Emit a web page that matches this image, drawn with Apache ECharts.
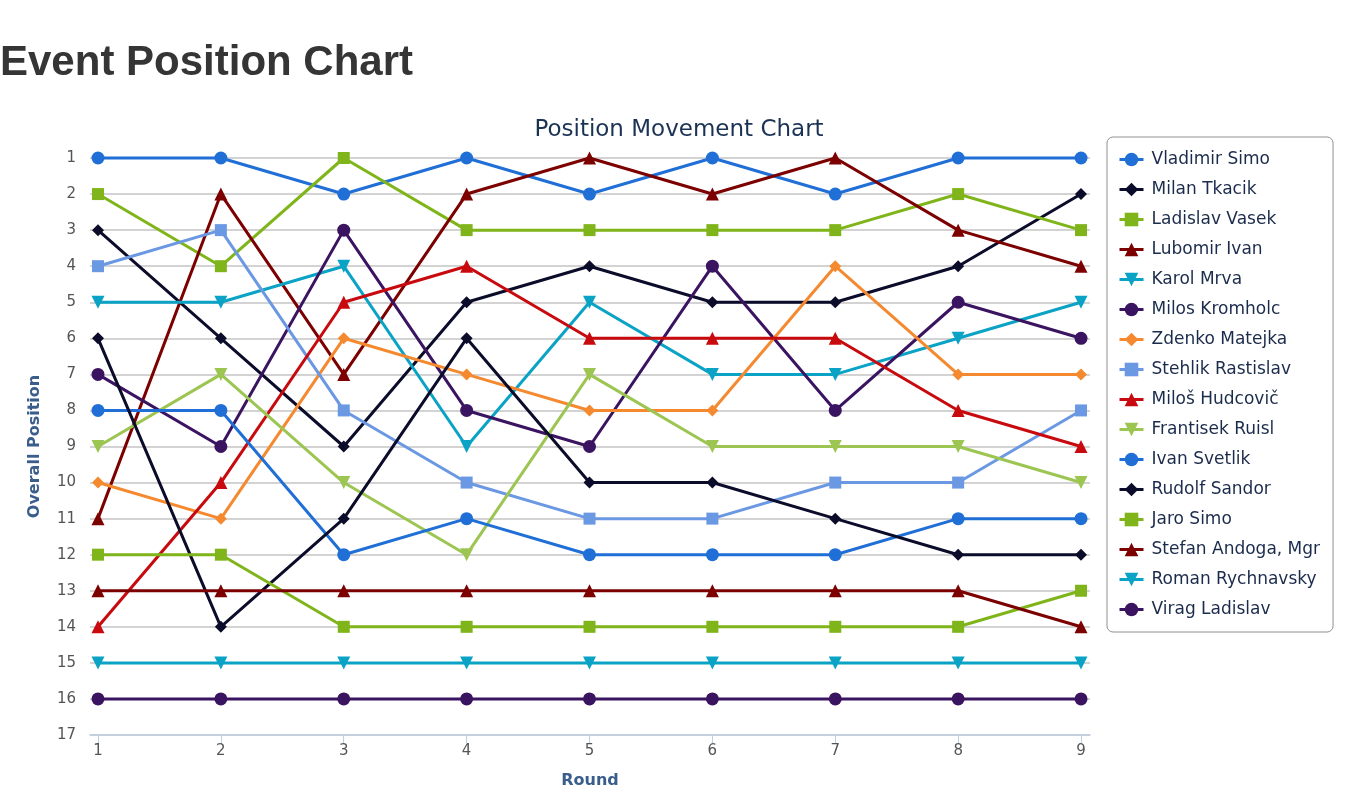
<!DOCTYPE html>
<html>
<head>
<meta charset="utf-8">
<script src="https://cdn.jsdelivr.net/npm/echarts@6/dist/echarts.min.js"></script>
<style>
html,body{margin:0;padding:0;background:#fff;}
#chart{width:1358px;height:797px;}
</style>
</head>
<body>
<div id="chart"></div>
<script>
var rounds = [1, 2, 3, 4, 5, 6, 7, 8, 9];
var positionTicks = [1,2,3,4,5,6,7,8,9,10,11,12,13,14,15,16,17];

var vladimirSimo     = [1, 1, 2, 1, 2, 1, 2, 1, 1];
var milanTkacik      = [3, 6, 9, 5, 4, 5, 5, 4, 2];
var ladislavVasek    = [2, 4, 1, 3, 3, 3, 3, 2, 3];
var lubomirIvan      = [11, 2, 7, 2, 1, 2, 1, 3, 4];
var karolMrva        = [5, 5, 4, 9, 5, 7, 7, 6, 5];
var milosKromholc    = [7, 9, 3, 8, 9, 4, 8, 5, 6];
var zdenkoMatejka    = [10, 11, 6, 7, 8, 8, 4, 7, 7];
var stehlikRastislav = [4, 3, 8, 10, 11, 11, 10, 10, 8];
var milosHudcovic    = [14, 10, 5, 4, 6, 6, 6, 8, 9];
var frantisekRuisl   = [9, 7, 10, 12, 7, 9, 9, 9, 10];
var ivanSvetlik      = [8, 8, 12, 11, 12, 12, 12, 11, 11];
var rudolfSandor     = [6, 14, 11, 6, 10, 10, 11, 12, 12];
var jaroSimo         = [12, 12, 14, 14, 14, 14, 14, 14, 13];
var stefanAndoga     = [13, 13, 13, 13, 13, 13, 13, 13, 14];
var romanRychnavsky  = [15, 15, 15, 15, 15, 15, 15, 15, 15];
var viragLadislav    = [16, 16, 16, 16, 16, 16, 16, 16, 16];

var players = [
  ['Vladimir Simo', vladimirSimo, '#1f6fd6', 'circle', 0, 13],
  ['Milan Tkacik', milanTkacik, '#0b0b2a', 'diamond', 0, 12],
  ['Ladislav Vasek', ladislavVasek, '#7fb51a', 'rect', 0, 12],
  ['Lubomir Ivan', lubomirIvan, '#7c0000', 'triangle', 0, 13],
  ['Karol Mrva', karolMrva, '#0aa3c6', 'triangle', 180, 13],
  ['Milos Kromholc', milosKromholc, '#3b1461', 'circle', 0, 13],
  ['Zdenko Matejka', zdenkoMatejka, '#f5892f', 'diamond', 0, 12],
  ['Stehlik Rastislav', stehlikRastislav, '#6b98e2', 'rect', 0, 12],
  ['Miloš Hudcovič', milosHudcovic, '#c80a0e', 'triangle', 0, 13],
  ['Frantisek Ruisl', frantisekRuisl, '#9cc552', 'triangle', 180, 13],
  ['Ivan Svetlik', ivanSvetlik, '#1f6fd6', 'circle', 0, 13],
  ['Rudolf Sandor', rudolfSandor, '#0b0b2a', 'diamond', 0, 12],
  ['Jaro Simo', jaroSimo, '#7fb51a', 'rect', 0, 12],
  ['Stefan Andoga, Mgr', stefanAndoga, '#7c0000', 'triangle', 0, 13],
  ['Roman Rychnavsky', romanRychnavsky, '#0aa3c6', 'triangle', 180, 13],
  ['Virag Ladislav', viragLadislav, '#3b1461', 'circle', 0, 13]
];

var FONT = '"DejaVu Sans", "Noto Sans", sans-serif';

var series = players.map(function (p) {
  return {
    name: p[0],
    type: 'line',
    data: rounds.map(function (r, i) { return [r, p[1][i]]; }),
    symbol: p[3],
    symbolRotate: p[4],
    symbolSize: p[5],
    showAllSymbol: true,
    clip: false,
    lineStyle: { color: p[2], width: 3 },
    itemStyle: { color: p[2], opacity: 1 },
    emphasis: { disabled: true },
    animation: false
  };
});

var chart = echarts.init(document.getElementById('chart'), null, { renderer: 'canvas' });
chart.setOption({
  animation: false,
  backgroundColor: '#ffffff',
  title: [
    {
      text: 'Event Position Chart',
      left: -5, top: 37,
      textStyle: { fontFamily: '"Liberation Sans", Arial, sans-serif', fontSize: 42, fontWeight: 'bold', color: '#353535' }
    },
    {
      text: 'Position Movement Chart',
      left: 674, top: 114, textAlign: 'center',
      textStyle: { fontFamily: FONT, fontSize: 23, fontWeight: 'normal', color: '#1a3354' }
    }
  ],
  legend: {
    orient: 'vertical',
    left: 1107, top: 137,
    padding: [14, 13, 14, 11],
    itemWidth: 24, itemHeight: 17, itemGap: 13,
    lineStyle: { width: 3 },
    borderColor: '#909090', borderWidth: 1, borderRadius: 6,
    backgroundColor: '#ffffff',
    textStyle: { fontFamily: FONT, fontSize: 17, color: '#1b2b4b', padding: [0, 0, 0, 3] },
    data: players.map(function (p) { return p[0]; })
  },
  grid: { left: 90, right: 268, top: 158, bottom: 62, containLabel: false },
  xAxis: {
    type: 'value',
    min: 0.935, max: 9.073,
    name: 'Round', nameLocation: 'middle', nameGap: 38,
    nameTextStyle: { fontFamily: FONT, fontSize: 16, fontWeight: 'bold', color: '#3a5e8c' },
    axisLine: { show: true, onZero: false, lineStyle: { color: '#c0cfe0', width: 1.5 } },
    axisTick: { show: true, length: 8, lineStyle: { color: '#c0cfe0' }, customValues: rounds },
    axisLabel: { customValues: rounds, margin: 9, fontFamily: FONT, fontSize: 15, color: '#555555' },
    splitLine: { show: false }
  },
  yAxis: {
    type: 'value',
    inverse: true,
    min: 1, max: 17, interval: 1,
    name: 'Overall Position', nameLocation: 'middle', nameGap: 47, nameRotate: 90,
    nameTextStyle: { fontFamily: FONT, fontSize: 16, fontWeight: 'bold', color: '#3a5e8c' },
    axisLine: { show: false },
    axisTick: { show: false },
    axisLabel: { margin: 14, fontFamily: FONT, fontSize: 15, color: '#555555',
      formatter: function (v) { return positionTicks.indexOf(v) >= 0 ? String(v) : ''; } },
    splitLine: { show: true, lineStyle: { color: '#c4c4c4', width: 1.5 } }
  },
  series: series
});
</script>
</body>
</html>
